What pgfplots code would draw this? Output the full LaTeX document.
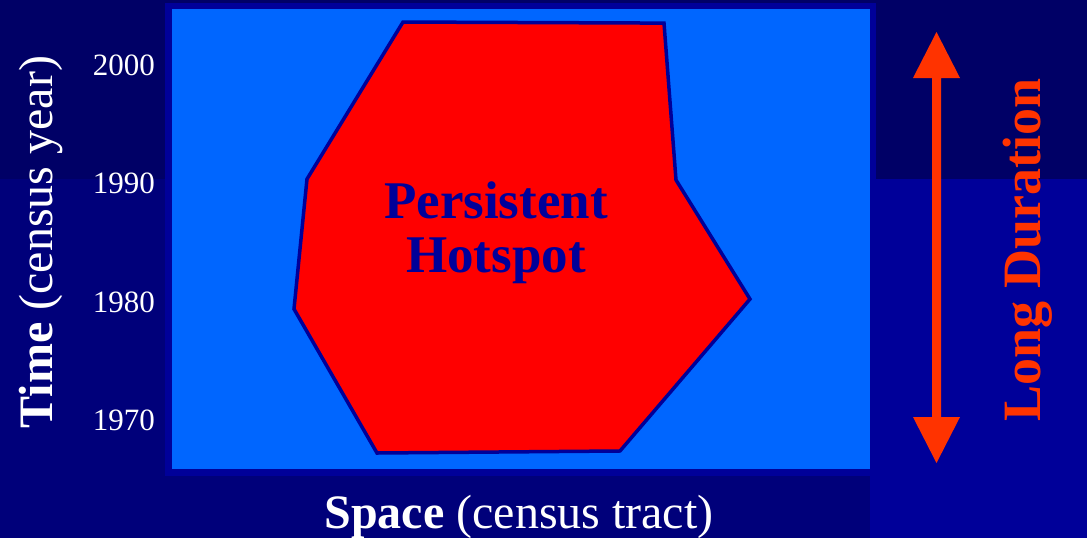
\documentclass[border=0pt]{standalone}
\usepackage{pgfplots}
\pgfplotsset{compat=1.18}
\usepackage{fontspec}
\setmainfont{Liberation Serif}
\definecolor{bgtop}{HTML}{000066}
\definecolor{bglow}{HTML}{00007A}
\definecolor{frameblue}{HTML}{000099}
\definecolor{plotblue}{HTML}{0066FF}
\definecolor{arrowred}{HTML}{FF3300}
\begin{document}
\begin{tikzpicture}
\begin{scope}[x=1pt,y=-1pt]
\useasboundingbox (0,0) rectangle (1087,538);
\fill[bglow] (0,0) rectangle (1087,538);
\fill[bgtop] (0,0) rectangle (1087,179);
\fill[frameblue] (870,179) rectangle (1087,538);
\fill[frameblue] (165,3) rectangle (876,476);
\end{scope}
\begin{axis}[at={(172pt,-469pt)}, anchor=south west, scale only axis,
  width=698pt, height=460pt, xmin=0, xmax=698, ymin=1965.91, ymax=2004.73,
  axis background/.style={fill=plotblue}, axis line style={draw=none},
  xtick=\empty, ytick={1970,1980,1990,2000}, major tick length=0pt, tick style={draw=none},
  /pgf/number format/assume math mode=true, /pgf/number format/1000 sep={},
  yticklabel style={font=\fontsize{31}{31}\selectfont, text=white, inner sep=0pt, anchor=east, xshift=-17pt},
  clip=false]
\addplot[fill=red, draw=frameblue, line width=3.5pt, line join=miter] coordinates {
(231,2003.63) (492,2003.54) (504,1990.30) (578,1980.25) (448,1967.43) (205,1967.26) (122,1979.41) (135,1990.38)
} -- cycle;
\end{axis}
\begin{scope}[x=1pt,y=-1pt]
\node[anchor=base, text=frameblue, font=\bfseries\fontsize{53}{53}\selectfont, inner sep=0pt] at (496,218) {Persistent};
\node[anchor=base, text=frameblue, font=\bfseries\fontsize{53}{53}\selectfont, inner sep=0pt] at (496,272) {Hotspot};
\fill[arrowred] (936.5,32) -- (960,78) -- (941,78) -- (941,417) -- (960,417) -- (936.5,463) -- (913,417) -- (932,417) -- (932,78) -- (913,78) -- cycle;
\node[rotate=90, anchor=base, text=arrowred, font=\bfseries\fontsize{54}{54}\selectfont, inner sep=0pt] at (1040,250) {Long Duration};
\node[rotate=90, anchor=base, text=white, font=\fontsize{48}{48}\selectfont, inner sep=0pt] at (52,242) {\textbf{Time} (census year)};
\node[anchor=base, text=white, font=\fontsize{48}{48}\selectfont, inner sep=0pt] at (519,528) {\textbf{Space} (census tract)};
\end{scope}
\end{tikzpicture}
\end{document}
